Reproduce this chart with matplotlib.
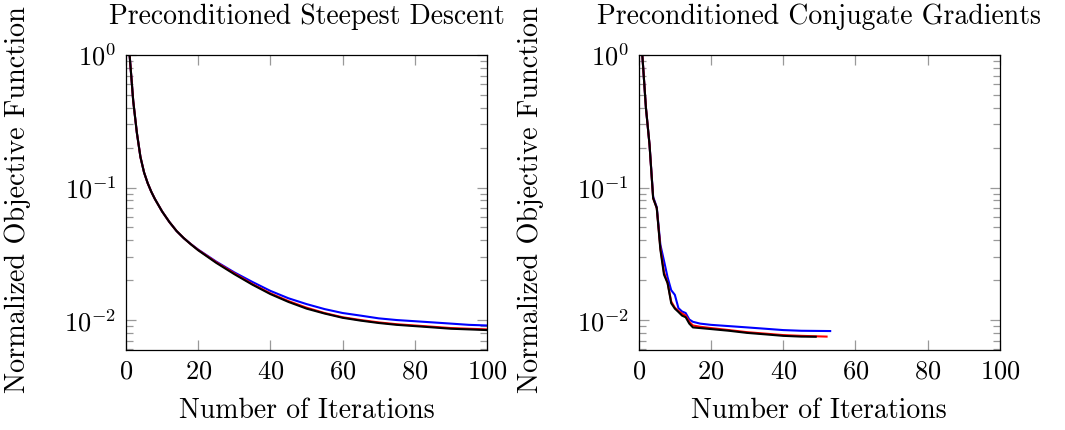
import matplotlib
matplotlib.use('Agg')
import matplotlib.pyplot as plt
import matplotlib.ticker as mticker

################################################################################
# Data
################################################################################
# Preconditioned Steepest Descent
sd_iter = [1, 2, 3, 4, 5, 6, 7, 8, 10, 12, 14, 16, 18, 20, 25, 30, 35, 40, 45, 50,
           55, 60, 65, 70, 75, 80, 85, 90, 95, 100]
sd_black = [1.0, 0.45, 0.26, 0.17, 0.13, 0.108, 0.093, 0.082, 0.066, 0.055, 0.047,
            0.0415, 0.0372, 0.0336, 0.0270, 0.0222, 0.0185, 0.0157, 0.0137, 0.0122,
            0.0112, 0.0104, 0.0099, 0.0095, 0.0092, 0.0090, 0.0088, 0.0086, 0.0085, 0.0084]
sd_red = [1.0, 0.45, 0.26, 0.17, 0.13, 0.108, 0.093, 0.082, 0.066, 0.055, 0.047,
          0.0415, 0.0373, 0.0338, 0.0273, 0.0225, 0.0187, 0.0159, 0.0139, 0.0124,
          0.0113, 0.0105, 0.0100, 0.0096, 0.0093, 0.0091, 0.0089, 0.0087, 0.0086, 0.0085]
sd_blue = [1.0, 0.45, 0.26, 0.17, 0.13, 0.108, 0.093, 0.082, 0.066, 0.055, 0.047,
           0.0415, 0.0374, 0.0340, 0.0276, 0.0229, 0.0194, 0.0166, 0.0146, 0.0132,
           0.0121, 0.0113, 0.0108, 0.0103, 0.0100, 0.0098, 0.0096, 0.0094, 0.0092, 0.0091]

# Preconditioned Conjugate Gradients
cg_black_iter = [1, 2, 3, 4, 5, 6, 7, 8, 9, 10, 11, 12, 13, 14, 15, 17, 20, 25, 30, 35, 40, 45, 49]
cg_black = [1.0, 0.40, 0.21, 0.083, 0.07, 0.034, 0.022, 0.019, 0.0134, 0.0122, 0.0115,
            0.0108, 0.0105, 0.0094, 0.0088, 0.0087, 0.00855, 0.0083, 0.0080, 0.0078,
            0.0076, 0.0075, 0.00748]
cg_red_iter = [1, 2, 3, 4, 5, 6, 7, 8, 9, 10, 11, 12, 13, 14, 15, 17, 20, 25, 30, 35, 40, 45, 52]
cg_red = [1.0, 0.40, 0.21, 0.083, 0.07, 0.035, 0.023, 0.019, 0.0138, 0.0124, 0.0117,
          0.0112, 0.0108, 0.0097, 0.0091, 0.0089, 0.0087, 0.0084, 0.0081, 0.0079,
          0.0077, 0.0076, 0.0075]
cg_blue_iter = [1, 2, 3, 4, 5, 6, 7, 8, 9, 10, 11, 12, 13, 14, 15, 17, 20, 25, 30, 35, 40, 45, 53]
cg_blue = [1.0, 0.40, 0.21, 0.085, 0.071, 0.037, 0.028, 0.021, 0.0168, 0.0155, 0.0123,
           0.0116, 0.0113, 0.0101, 0.0097, 0.0094, 0.0092, 0.0090, 0.0088, 0.0086,
           0.0084, 0.0083, 0.00826]

titles = ['Preconditioned Steepest Descent', 'Preconditioned Conjugate Gradients']
x_ticks = [0, 20, 40, 60, 80, 100]

################################################################################
# Plot
################################################################################
plt.rcParams['font.family'] = ['cmr10', 'DejaVu Serif']
plt.rcParams['mathtext.fontset'] = 'cm'
plt.rcParams['axes.unicode_minus'] = False
plt.rcParams['axes.formatter.use_mathtext'] = True

fig = plt.figure(figsize=(10.65, 4.3), dpi=100)
ax1 = fig.add_axes([126/1065, 80/430, 361/1065, 295/430])
ax2 = fig.add_axes([638.7/1065, 80/430, 361.3/1065, 295/430])

ax1.plot(sd_iter, sd_blue, color='blue', lw=1.5)
ax1.plot(sd_iter, sd_red, color='red', lw=1.5)
ax1.plot(sd_iter, sd_black, color='black', lw=1.5)

ax2.plot(cg_blue_iter, cg_blue, color='blue', lw=1.5)
ax2.plot(cg_red_iter, cg_red, color='red', lw=1.5)
ax2.plot(cg_black_iter, cg_black, color='black', lw=1.5)

for ax, title in zip([ax1, ax2], titles):
    ax.set_yscale('log')
    ax.set_xlim(0, 100)
    ax.set_ylim(10**-2.226, 1.0)
    ax.set_xticks(x_ticks)
    ax.yaxis.set_major_locator(mticker.LogLocator(base=10, numticks=10))
    ax.yaxis.set_minor_locator(mticker.LogLocator(base=10, subs=range(2, 10), numticks=10))
    ax.yaxis.set_minor_formatter(mticker.NullFormatter())
    ax.tick_params(which='both', direction='in', top=True, right=True,
                   color='#999999', width=0.9, labelsize=19, labelcolor='black')
    ax.tick_params(which='major', length=7, pad=7)
    ax.tick_params(which='minor', length=5)
    for sp in ax.spines.values():
        sp.set_linewidth(0.9)
        sp.set_color('black')
    ax.set_title(title, fontsize=20, pad=22)
    ax.set_xlabel('Number of Iterations', fontsize=20, labelpad=10)
    ax.set_ylabel('Normalized Objective Function', fontsize=20.3)
    ax.yaxis.set_label_coords(-0.262, 0.51)

fig.savefig('out.png', dpi=100)
plt.close()
